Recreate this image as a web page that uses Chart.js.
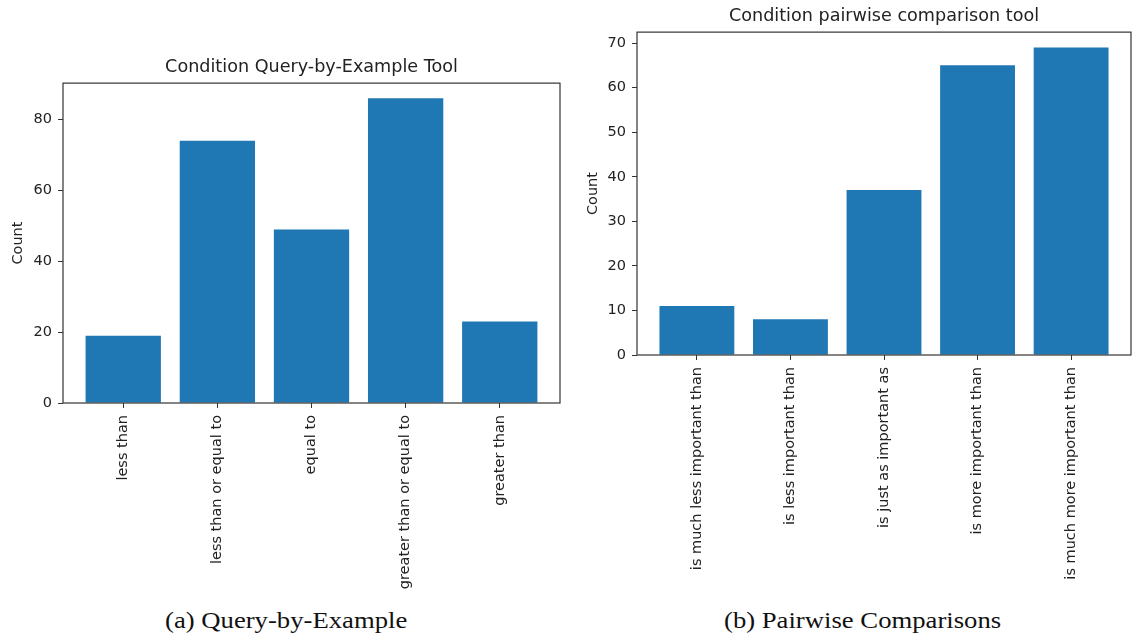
<!DOCTYPE html>
<html>
<head>
<meta charset="utf-8">
<script src="https://cdn.jsdelivr.net/npm/chart.js@4.4.1/dist/chart.umd.min.js"></script>
<style>
    body { margin: 0; background: #fff; width: 1139px; height: 635px; overflow: hidden; position: relative; }
    .box { position: absolute; }
    .caption { position: absolute; font-family: "Liberation Serif", serif; font-size: 23px; color: #111; white-space: nowrap; transform: scaleX(1.16); transform-origin: left center; }
</style>
</head>
<body>
<div class="box" style="left:0px; top:40px; width:570px; height:560px;"><canvas id="chartA"></canvas></div>
<div class="box" style="left:575px; top:0px; width:564px; height:600px;"><canvas id="chartB"></canvas></div>
<div class="caption" style="left:165px; top:608px;">(a) Query-by-Example</div>
<div class="caption" style="left:724px; top:608px;">(b) Pairwise Comparisons</div>
<script>
// data
const labelsA = ['less than', 'less than or equal to', 'equal to', 'greater than or equal to', 'greater than'];
const countsA = [19, 74, 49, 86, 23];
const yTicksA = [0, 20, 40, 60, 80];

const labelsB = ['is much less important than', 'is less important than', 'is just as important as', 'is more important than', 'is much more important than'];
const countsB = [11, 8, 37, 65, 69];
const yTicksB = [0, 10, 20, 30, 40, 50, 60, 70];

const barColor = '#1f77b4';
const axisColor = '#333';
const textColor = '#222';
const fontFamily = '"DejaVu Sans", sans-serif';

// box around the plot area, like matplotlib spines
const framePlugin = {
    id: 'frame',
    afterDraw(chart) {
        const a = chart.chartArea;
        const ctx = chart.ctx;
        ctx.save();
        ctx.strokeStyle = axisColor;
        ctx.lineWidth = 1.2;
        ctx.strokeRect(a.left, a.top, a.right - a.left, a.bottom - a.top);
        ctx.restore();
    }
};

function makeChart(id, title, labels, counts, yTicks, opts) {
    const n = labels.length;
    const pad = 0.05 * (n - 1 + 0.8);
    const yMax = Math.max(...counts) * 1.05;
    let ctx = document.getElementById(id).getContext('2d');
    return new Chart(ctx, {
        type: 'bar',
        data: {
            datasets: [{
                data: counts.map((v, i) => ({ x: i, y: v })),
                backgroundColor: barColor,
                borderWidth: 0,
                categoryPercentage: 1,
                barPercentage: 0.8
            }]
        },
        options: {
            responsive: true,
            maintainAspectRatio: false,
            animation: false,
            layout: { padding: { left: 0, right: opts.padRight, top: 0, bottom: 0 } },
            plugins: {
                legend: { display: false },
                tooltip: { enabled: false },
                title: {
                    display: true,
                    fullSize: false,
                    text: title,
                    color: textColor,
                    font: { family: fontFamily, size: 17.6, weight: 'normal' },
                    padding: { top: opts.titleTop, bottom: opts.titleBottom }
                }
            },
            scales: {
                x: {
                    type: 'linear',
                    offset: false,
                    min: -0.4 - pad,
                    max: n - 1 + 0.4 + pad,
                    afterBuildTicks: (s) => { s.ticks = labels.map((_, i) => ({ value: i })); },
                    afterFit: (s) => { s.height = opts.xHeight; },
                    border: { display: false },
                    grid: { offset: false, drawOnChartArea: false, drawTicks: true, tickLength: 5, color: axisColor, lineWidth: 1 },
                    ticks: {
                        autoSkip: false,
                        minRotation: 90,
                        maxRotation: 90,
                        padding: 7,
                        color: textColor,
                        font: { family: fontFamily, size: 14.5 },
                        callback: (v) => labels[v]
                    }
                },
                y: {
                    min: 0,
                    max: yMax,
                    afterBuildTicks: (s) => { s.ticks = yTicks.map(v => ({ value: v })); },
                    afterFit: (s) => { s.width = opts.yWidth; },
                    border: { display: false },
                    grid: { drawOnChartArea: false, drawTicks: true, tickLength: 5, color: axisColor, lineWidth: 1 },
                    ticks: {
                        padding: 6,
                        color: textColor,
                        font: { family: fontFamily, size: 14.5 }
                    },
                    title: {
                        display: true,
                        text: 'Count',
                        color: textColor,
                        font: { family: fontFamily, size: 14.5 },
                        padding: { top: 10, bottom: 0 }
                    }
                }
            }
        },
        plugins: [framePlugin]
    });
}

makeChart('chartA', 'Condition Query-by-Example Tool', labelsA, countsA, yTicksA,
    { padRight: 10, titleTop: 17, titleBottom: 5, xHeight: 197, yWidth: 63 });
makeChart('chartB', 'Condition pairwise comparison tool', labelsB, countsB, yTicksB,
    { padRight: 8, titleTop: 6, titleBottom: 5, xHeight: 245, yWidth: 62 });
</script>
</body>
</html>
